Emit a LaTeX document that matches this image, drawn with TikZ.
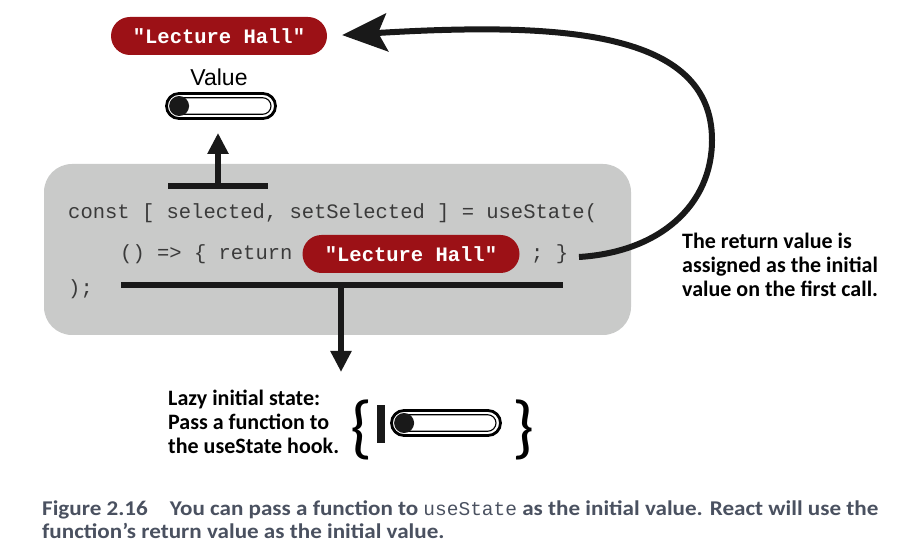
\documentclass[tikz,border=0pt]{standalone}
\usepackage{fontspec}
\setmainfont{Carlito}
\setmonofont{Liberation Mono}
\newfontfamily\labelfont{Liberation Sans}
\newfontfamily\capfont[FakeStretch=1.1]{Carlito}
\usetikzlibrary{arrows.meta,positioning,calc,shapes.misc}
\definecolor{hallRed}{HTML}{9C1116}
\definecolor{panelGrey}{HTML}{C9CAC9}
\definecolor{codeInk}{HTML}{3A3A3A}
\definecolor{capSlate}{HTML}{4A5160}
\tikzset{
  pill/.style={rounded rectangle,fill=hallRed,text=white,inner sep=0pt,
               minimum height=38pt,font=\fontsize{20.5}{22}\ttfamily\bfseries},
  code/.style={anchor=base west,inner sep=0pt,text=codeInk,
               font=\fontsize{20.5}{22}\ttfamily},
  note/.style={anchor=north west,align=left,inner sep=0pt,
               font=\fontsize{22}{24}\selectfont\bfseries},
  switchout/.style={rounded rectangle,draw,line width=2.8pt,minimum width=109pt,
                    minimum height=25pt,inner sep=0pt},
  switchin/.style={rounded rectangle,draw,line width=1.1pt,minimum width=100pt,
                   minimum height=16.5pt,inner sep=0pt},
  knob/.style={circle,fill=black!90,inner sep=0pt,minimum size=20pt},
  bar/.style={line width=6.5pt,black!90},
  upward/.style={line width=6.5pt,black!90,-{Triangle[length=21pt,width=20pt]}},
  returnloop/.style={line width=6pt,black!90,-{Stealth[length=45pt,width=38pt,inset=9pt]}},
}

\begin{document}
\begin{tikzpicture}[x=1pt,y=-1pt]
  \useasboundingbox (0,0) rectangle (908,553);

  % code panel
  \node[fill=panelGrey,rounded corners=28pt,minimum width=587pt,minimum height=171pt,
        inner sep=0pt] (panel) at (337.5,249.5) {};
  \node[code] (line1) at (68,219) {const [ selected, setSelected ] = useState(};
  \node[code] (arrowfn) at (120,260) {() => \{ return};
  \node[pill,minimum width=217pt] (retval) at (411,254) {"Lecture Hall"};
  \node[code] (closefn) at (531,260) {; \}};
  \node[code] (line3) at (68,295) {);};

  % value on top
  \node[pill,minimum width=216pt] (hall) at (219,36) {"Lecture Hall"};
  \node[font=\labelfont\fontsize{23}{24}\selectfont,inner sep=0pt] (valuelbl) at (219,77) {Value};
  \node[switchout] (valsw) at (221,106) {};
  \node[switchin] at (valsw) {};
  \node[knob] at ([xshift=14pt]valsw.west) {};

  % selected -> value
  \coordinate (selL) at (168,186);
  \coordinate (selR) at (268,186);
  \coordinate (selT) at (218,186);
  \draw[bar] (selL) -- (selR);
  \draw[upward] (selT) -- (selT |- valsw.south) [shorten >=13pt];

  % initializer -> lazy state
  \coordinate (lazyL) at (121,285);
  \coordinate (lazyR) at (563,285);
  \coordinate (lazyT) at (341,285);
  \coordinate (lazyTip) at (341,372);
  \draw[bar] (lazyL) -- (lazyR);
  \draw[upward] (lazyT) -- (lazyTip);

  \node[note] (lazytxt) at (168,390) {Lazy initial state:\\Pass a function to\\the useState hook.};
  \node[font=\fontsize{70}{70}\selectfont,inner sep=0pt] (lbrace) at (362,430) {\{};
  \fill[black!90] (377,405) rectangle (385,443);
  \node[switchout] (lazysw) at (446,423) {};
  \node[switchin] at (lazysw) {};
  \node[knob] at ([xshift=14pt]lazysw.west) {};
  \node[font=\fontsize{70}{70}\selectfont,inner sep=0pt] (rbrace) at (524,430) {\}};

  % return value -> initial value
  \coordinate (retend) at (579,257);
  \draw[returnloop] (retend) .. controls (660,252) and (712,205) .. (712,140)
        .. controls (712,30) and (560,22) .. (hall.east) [shorten >=15pt];
  \node[note] (assigntxt) at (682,233) {The return value is\\assigned as the initial\\value on the first call.};

  % caption
  \node[anchor=north west,align=left,inner sep=0pt,text=capSlate,
        font=\capfont\fontsize{21}{23}\selectfont\bfseries] (caption) at (42,501)
    {Figure 2.16\hspace{22pt}You can pass a function to {\fontsize{19.5}{23}\ttfamily\mdseries useState}
     as the initial value. React will use the\\function’s return value as the initial value.};
\end{tikzpicture}
\end{document}
